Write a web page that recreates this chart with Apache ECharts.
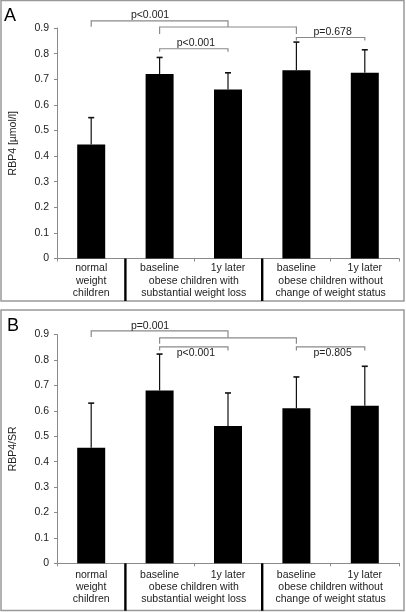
<!DOCTYPE html>
<html><head><meta charset="utf-8">
<script src="https://cdn.jsdelivr.net/npm/echarts@6/dist/echarts.min.js"></script>
<style>html,body{margin:0;padding:0;background:#fff}#c{width:406px;height:612px}</style>
</head><body><div id="c"></div>
<script>
// ---- data ----
const categories = ['normal\nweight\nchildren', 'baseline', '1y later', 'baseline', '1y later'];
const groupLabels = ['obese children with\nsubstantial weight loss', 'obese children without\nchange of weight status'];
const groupSpans = [[1, 2], [3, 4]];
const separators = [[0, 1], [2, 3]];

const rbp4Mean  = [0.445, 0.72, 0.66, 0.735, 0.725];
const rbp4Upper = [0.55, 0.785, 0.725, 0.845, 0.815];
const ratioMean  = [0.455, 0.68, 0.54, 0.61, 0.62];
const ratioUpper = [0.63, 0.823, 0.67, 0.733, 0.775];

const bracketPairs = [[0, 2], [1, 3], [1, 2], [3, 4]];
const pLabelsA = ['p<0.001', '', 'p<0.001', 'p=0.678'];
const pLabelsB = ['p=0.001', '', 'p<0.001', 'p=0.805'];
const bracketLevelsA = [0.928, 0.904, 0.819, 0.863];
const bracketLevelsB = [0.914, 0.887, 0.851, 0.851];

const yMin = 0, yMax = 0.9, yStep = 0.1;

// ---- styles ----
const FONT = '"Liberation Sans", Arial, sans-serif';
const TXT = '#222';
const GRAY = '#8a8a8a';

const grids = [
  { left: 53, right: 7, top: 28, bottom: 353.5 },
  { left: 53, right: 7, top: 334.5, bottom: 48.7 }
];

function xAxisFor(gi, margin) {
  return {
    type: 'category', gridIndex: gi, data: categories,
    axisLine: { lineStyle: { color: GRAY, width: 1 } },
    axisTick: { show: true, length: 3, lineStyle: { color: GRAY } },
    axisLabel: { interval: 0, margin: margin, color: TXT, fontSize: 10.5, fontFamily: FONT, lineHeight: 12.3, verticalAlign: 'top' },
    splitLine: { show: false }
  };
}
function yAxisFor(gi, name) {
  return {
    type: 'value', gridIndex: gi, min: yMin, max: yMax, interval: yStep,
    name: name, nameLocation: 'middle', nameGap: 38,
    nameTextStyle: { color: TXT, fontSize: 10.5, fontFamily: FONT },
    axisLine: { show: true, lineStyle: { color: GRAY, width: 1 } },
    axisTick: { show: true, length: 3, lineStyle: { color: GRAY } },
    axisLabel: { margin: 8, color: TXT, fontSize: 10.5, fontFamily: FONT,
      formatter: v => (v === 0 ? '0' : v.toFixed(1)) },
    splitLine: { show: false }
  };
}

function barSeries(gi, means) {
  return { type: 'bar', xAxisIndex: gi, yAxisIndex: gi, data: means, barWidth: 28,
    itemStyle: { color: '#000' }, silent: true, z: 2 };
}

function errorSeries(gi, means, uppers) {
  return {
    type: 'custom', xAxisIndex: gi, yAxisIndex: gi, clip: false, silent: true, z: 4,
    data: means.map((m, i) => [i, m, uppers[i]]),
    renderItem(params, api) {
      const p0 = api.coord([api.value(0), api.value(1)]);
      const p1 = api.coord([api.value(0), api.value(2)]);
      return { type: 'group', children: [
        { type: 'line', shape: { x1: p0[0], y1: p0[1], x2: p1[0], y2: p1[1] }, style: { stroke: '#111', lineWidth: 1.2 } },
        { type: 'line', shape: { x1: p1[0] - 3, y1: p1[1], x2: p1[0] + 3, y2: p1[1] }, style: { stroke: '#111', lineWidth: 1.6 } }
      ] };
    }
  };
}

function bracketSeries(gi, levels, labels, drops, sides, labelGap) {
  return {
    type: 'custom', xAxisIndex: gi, yAxisIndex: gi, clip: false, silent: true, z: 5,
    data: bracketPairs.map((p, i) => [p[0], p[1], levels[i]]),
    renderItem(params, api) {
      const i = params.dataIndex;
      const a = api.coord([api.value(0), api.value(2)]);
      const b = api.coord([api.value(1), api.value(2)]);
      const y = a[1];
      let rightEnd = y + drops[i];
      if (i === 0) rightEnd = api.coord([api.value(1), levels[1]])[1];
      const children = [{
        type: 'polyline',
        shape: { points: [[a[0], y + drops[i]], [a[0], y], [b[0], y], [b[0], rightEnd]] },
        style: { stroke: GRAY, lineWidth: 1.2, fill: null }
      }];
      if (labels[i]) {
        const frac = i === 0 ? 0.43 : 0.53;
        const x = a[0] + (b[0] - a[0]) * frac;
        children.push({ type: 'text', x: x, y: sides[i] === 'above' ? y - labelGap[0] : y + labelGap[1],
          style: { text: labels[i], align: 'center', verticalAlign: 'middle', fill: TXT,
            font: '10.5px ' + FONT } });
      }
      return { type: 'group', children };
    }
  };
}

function groupSeries(gi, extend, labelOffset) {
  return {
    type: 'custom', xAxisIndex: gi, yAxisIndex: gi, clip: false, silent: true, z: 6,
    data: separators.map((s, i) => [s[0], s[1], groupSpans[i][0], groupSpans[i][1]]),
    renderItem(params, api) {
      const i = params.dataIndex;
      const s0 = api.coord([api.value(0), 0]);
      const s1 = api.coord([api.value(1), 0]);
      const g0 = api.coord([api.value(2), 0]);
      const g1 = api.coord([api.value(3), 0]);
      const sx = (s0[0] + s1[0]) / 2;
      const gx = (g0[0] + g1[0]) / 2;
      return { type: 'group', children: [
        { type: 'line', shape: { x1: sx, y1: s0[1], x2: sx, y2: s0[1] + extend }, style: { stroke: '#000', lineWidth: 2.4 } },
        { type: 'text', x: gx, y: s0[1] + labelOffset,
          style: { text: groupLabels[i], align: 'center', verticalAlign: 'top', fill: TXT,
            font: '10.5px ' + FONT, lineHeight: 12.3 } }
      ] };
    }
  };
}

const chart = echarts.init(document.getElementById('c'), null, { renderer: 'canvas' });
chart.setOption({
  animation: false,
  backgroundColor: '#fff',
  grid: grids,
  xAxis: [xAxisFor(0, 3.8), xAxisFor(1, 5.5)],
  yAxis: [yAxisFor(0, 'RBP4 [µmol/l]'), yAxisFor(1, 'RBP4/SR')],
  graphic: [
    { type: 'rect', shape: { x: 1, y: 0.5, width: 403, height: 300.5 }, style: { fill: null, stroke: '#999', lineWidth: 1.5 } },
    { type: 'rect', shape: { x: 1, y: 310, width: 403, height: 300.5 }, style: { fill: null, stroke: '#999', lineWidth: 1.5 } },
    { type: 'text', left: 4, top: 7, style: { text: 'A', font: '18px ' + FONT, fill: '#000' } },
    { type: 'text', left: 7, top: 317, style: { text: 'B', font: '18px ' + FONT, fill: '#000' } }
  ],
  series: [
    barSeries(0, rbp4Mean),
    errorSeries(0, rbp4Mean, rbp4Upper),
    bracketSeries(0, bracketLevelsA, pLabelsA, [6, 7, 3, 3], ['above', 'above', 'above', 'above'], [5.5, 6.6]),
    groupSeries(0, 42.5, 3.8 + 12.3),
    barSeries(1, ratioMean),
    errorSeries(1, ratioMean, ratioUpper),
    bracketSeries(1, bracketLevelsB, pLabelsB, [6, 6, 3.5, 3.5], ['above', 'above', 'below', 'below'], [5.2, 6.6]),
    groupSeries(1, 47.5, 5.5 + 12.3)
  ]
});
</script>
</body></html>
